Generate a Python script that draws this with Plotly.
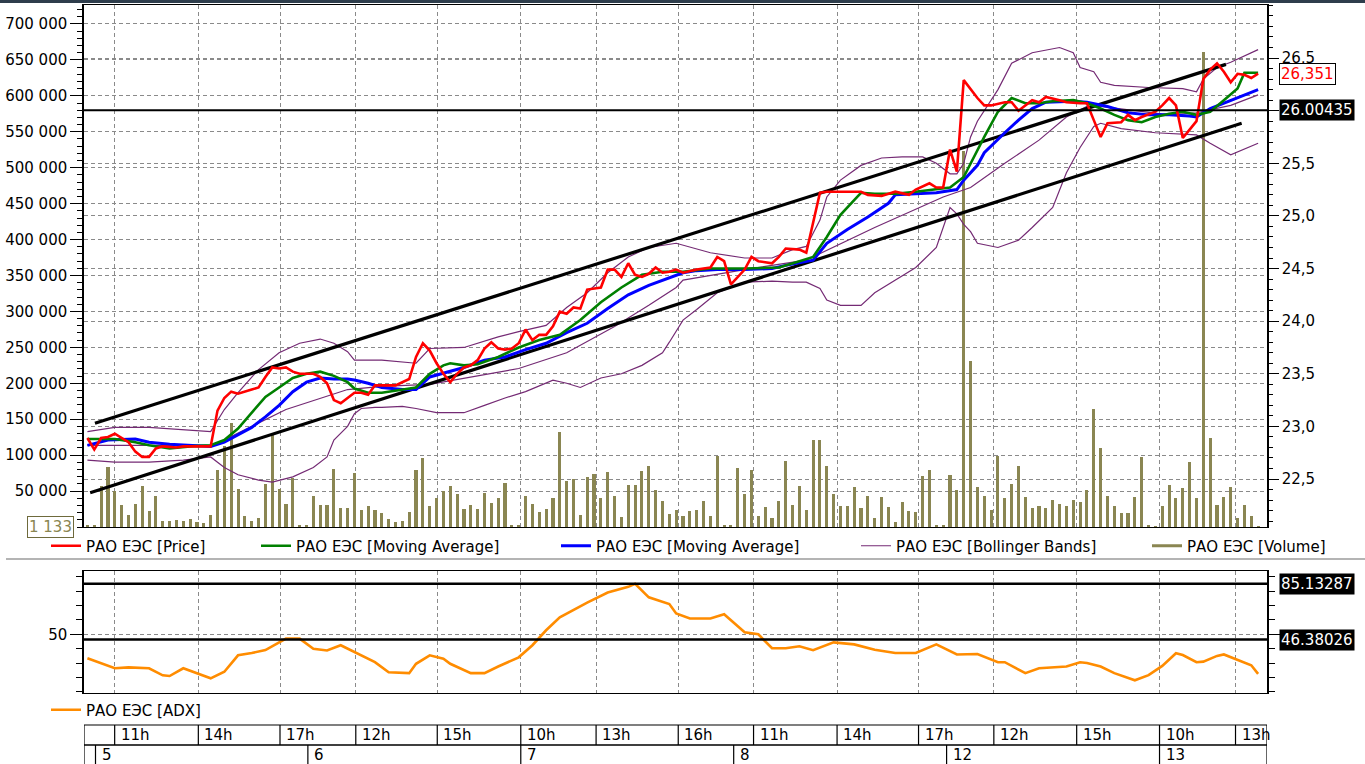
import plotly.graph_objects as go

# ---------------- data ----------------
volume = [3250, 3250, 56600, 83100, 49700, 31100, 17200, 32500, 57600, 22700, 43600, 7900, 8800, 10200, 7900,
          11100, 6500, 5600, 17200, 78900, 112300, 144800, 52900, 14900, 7900, 12500, 59900, 130000, 52900, 32500,
          68200, 3250, 3250, 43600, 31100, 31100, 80800, 26500, 26500, 75200, 24100, 29700, 24100, 19500,
          11100, 6500, 8800, 20400, 78900, 96100, 28800, 40400, 49700, 57600, 46000, 25100, 30200, 25100, 47300,
          33400, 40400, 61300, 1900, 3250, 42700, 32500, 20400, 25100, 40400, 131800, 63600, 66800, 17200, 69600,
          73800, 40400, 76600, 43600, 13900, 59000, 59000, 77500, 84500, 51100, 35700, 18600, 23200,
          14900, 21800, 24100, 35700, 15800, 98400, 1900, 1900, 82200, 46400, 78900, 14900, 27900, 12500, 35700,
          92400, 31100, 56600, 24100, 121600, 121600, 84500, 46400, 29700, 28800, 55700, 26500, 43600, 12500,
          41800, 27900, 6500, 34400, 21800, 20400, 71500, 79800, 1900, 1900, 72900, 51100, 523200, 230700,
          55700, 43600, 23200, 98400, 40400, 59900, 85400, 41800, 26500, 28800, 26500, 38100, 32500, 28800,
          37100, 34800, 52000, 164300, 110000, 43600, 28800, 19500, 19500, 41800, 97000, 1900, 900, 28800,
          58000, 40400, 54300, 90500, 40400, 661000, 123900, 31100, 41800, 55700, 12500, 31100, 14900, 1133]

price_x = [0, 1, 2, 3, 4, 5, 6, 7, 8, 9, 10, 11, 13, 14, 16, 18, 19, 20, 21, 22, 24, 25, 26, 27, 28, 29, 30, 31,
           33, 34, 35, 36, 37, 38, 39, 40, 41, 42, 43, 45, 47, 48, 49, 50, 51, 52, 53, 54, 55, 56, 57, 58, 59,
           60, 61, 62, 63, 64, 65, 66, 67, 68, 69, 70, 71, 72, 73, 74, 75, 76, 77, 78, 79, 80, 81, 82, 83, 84,
           85, 86, 87, 89, 91, 92, 93, 94, 96, 97, 98, 100, 101, 102, 104, 105, 106, 107, 108, 110, 113, 114,
           116, 118, 120, 121, 123, 124, 125, 126, 127, 128, 129, 130, 131, 132, 134, 135, 136, 138, 139, 140,
           142, 143, 145, 146, 147, 148, 149, 151, 152, 153, 154, 156, 157, 158, 159, 160, 161, 162, 163, 164,
           165, 166, 167, 168, 169, 170, 171]
price_y = [22.89, 22.78, 22.89, 22.90, 22.93, 22.89, 22.85, 22.76, 22.71, 22.71, 22.79, 22.81, 22.80, 22.81,
           22.81, 22.81, 23.15, 23.27, 23.33, 23.31, 23.35, 23.37, 23.47, 23.56, 23.55, 23.56, 23.52, 23.50,
           23.50, 23.47, 23.41, 23.25, 23.22, 23.27, 23.32, 23.32, 23.30, 23.39, 23.39, 23.39, 23.45, 23.66,
           23.79, 23.72, 23.60, 23.50, 23.42, 23.50, 23.56, 23.58, 23.63, 23.74, 23.80, 23.74, 23.73, 23.74,
           23.79, 23.92, 23.82, 23.87, 23.87, 23.95, 24.09, 24.07, 24.13, 24.12, 24.30, 24.31, 24.32, 24.49,
           24.49, 24.42, 24.55, 24.44, 24.42, 24.45, 24.51, 24.46, 24.47, 24.49, 24.46, 24.49, 24.51, 24.61,
           24.57, 24.35, 24.49, 24.61, 24.57, 24.55, 24.61, 24.69, 24.68, 24.65, 24.95, 25.22, 25.23, 25.23,
           25.23, 25.20, 25.19, 25.23, 25.20, 25.25, 25.31, 25.27, 25.27, 25.63, 25.42, 26.29, 26.20, 26.12,
           26.05, 26.05, 26.08, 26.08, 26.00, 26.10, 26.08, 26.13, 26.10, 26.08, 26.07, 26.07, 25.91, 25.75,
           25.88, 25.89, 25.96, 25.91, 25.94, 25.99, 26.05, 26.12, 26.05, 25.74, 25.82, 25.90, 26.30, 26.39,
           26.45, 26.37, 26.27, 26.35, 26.34, 26.31, 26.351]

ma_green_x = [0, 4, 7, 9, 12, 15, 18, 20, 22, 24, 26, 28, 30, 32, 34, 36, 38, 39, 41, 43, 46, 48, 50, 52, 53,
              55, 57, 60, 63, 66, 69, 72, 75, 78, 81, 84, 87, 91, 96, 101, 104, 106, 108, 110, 112, 113, 115,
              118, 121, 124, 126, 128, 129, 130, 131, 133, 135, 137, 139, 141, 144, 146, 148, 150, 152, 154,
              156, 158, 160, 162, 164, 166, 168, 169, 171]
ma_green_y = [22.88, 22.88, 22.85, 22.82, 22.79, 22.81, 22.82, 22.87, 22.98, 23.13, 23.28, 23.37, 23.46, 23.50,
              23.52, 23.48, 23.42, 23.36, 23.32, 23.32, 23.35, 23.37, 23.50, 23.58, 23.60, 23.58, 23.59, 23.66,
              23.75, 23.82, 23.87, 24.01, 24.18, 24.32, 24.44, 24.47, 24.47, 24.50, 24.50, 24.51, 24.57, 24.61,
              24.80, 25.01, 25.15, 25.22, 25.21, 25.21, 25.23, 25.25, 25.27, 25.37, 25.50, 25.62, 25.75, 25.99,
              26.12, 26.07, 26.07, 26.09, 26.10, 26.07, 26.02, 25.96, 25.91, 25.89, 25.94, 25.97, 25.99, 25.96,
              25.99, 26.10, 26.21, 26.36, 26.36]

ma_blue_x = [0, 3, 7, 9, 12, 16, 18, 20, 22, 24, 26, 28, 30, 32, 34, 36, 38, 39, 41, 43, 46, 48, 50, 53, 55, 58,
             61, 64, 67, 70, 73, 76, 79, 82, 85, 87, 89, 92, 96, 100, 102, 106, 108, 111, 114, 117, 118, 121,
             124, 127, 128, 130, 131, 134, 136, 138, 140, 144, 146, 149, 152, 155, 158, 161, 162, 164, 167, 169,
             171]
ma_blue_y = [22.82, 22.87, 22.88, 22.85, 22.83, 22.82, 22.81, 22.85, 22.92, 22.99, 23.09, 23.20, 23.33, 23.42,
             23.46, 23.45, 23.45, 23.44, 23.41, 23.37, 23.35, 23.35, 23.47, 23.52, 23.56, 23.63, 23.66, 23.73,
             23.79, 23.89, 23.98, 24.12, 24.25, 24.34, 24.41, 24.46, 24.48, 24.49, 24.49, 24.50, 24.53, 24.58,
             24.74, 24.87, 24.99, 25.12, 25.20, 25.21, 25.22, 25.25, 25.34, 25.48, 25.60, 25.79, 25.91, 26.02,
             26.08, 26.09, 26.08, 26.04, 25.98, 25.96, 25.96, 25.95, 25.94, 26.02, 26.10, 26.15, 26.20]

bb_upper_x = [0, 4, 9, 14, 18, 20, 22, 25, 28, 31, 34, 36, 38, 39, 43, 48, 50, 55, 60, 63, 67, 70, 73, 76, 79,
              82, 86, 91, 96, 100, 103, 105, 107, 108, 110, 113, 116, 119, 122, 124, 126, 127, 128, 129, 130,
              133, 135, 138, 142, 144, 145, 147, 148, 150, 155, 160, 162, 163, 165, 167, 171]
bb_upper_y = [22.95, 22.99, 22.99, 22.97, 22.95, 23.16, 23.32, 23.54, 23.70, 23.79, 23.83, 23.79, 23.71, 23.63,
              23.63, 23.60, 23.74, 23.75, 23.85, 23.90, 23.96, 24.13, 24.27, 24.46, 24.61, 24.70, 24.74, 24.65,
              24.60, 24.60, 24.68, 24.71, 24.96, 25.18, 25.34, 25.48, 25.55, 25.56, 25.56, 25.50, 25.40, 25.40,
              25.50, 25.75, 25.90, 26.20, 26.45, 26.55, 26.60, 26.55, 26.41, 26.37, 26.27, 26.24, 26.22, 26.21,
              26.18, 26.30, 26.41, 26.46, 26.58]

bb_middle_x = [0, 18, 19, 29, 38, 43, 50, 57, 63, 70, 77, 82, 86, 87, 96, 105, 115, 125, 129, 134, 139, 143,
               146, 148, 158, 162, 167, 171]
bb_middle_y = [22.82, 22.82, 22.84, 23.16, 23.35, 23.38, 23.40, 23.48, 23.55, 23.70, 23.95, 24.15, 24.32, 24.39,
               24.49, 24.58, 24.89, 25.18, 25.27, 25.50, 25.72, 25.94, 26.04, 26.04, 25.96, 25.98, 26.05, 26.15]

bb_lower_x = [0, 4, 9, 14, 18, 20, 22, 25, 27, 30, 33, 35, 36, 38, 39, 40, 42, 43, 46, 48, 51, 55, 58, 61, 64,
              68, 70, 72, 75, 78, 81, 84, 85, 87, 89, 92, 96, 100, 103, 105, 107, 108, 110, 113, 115, 118, 121,
              124, 125, 126, 127, 128, 129, 130, 133, 136, 138, 141, 143, 145, 147, 148, 151, 156, 162, 164, 167,
              171]
bb_lower_y = [22.68, 22.66, 22.66, 22.68, 22.71, 22.61, 22.54, 22.49, 22.47, 22.52, 22.61, 22.71, 22.87, 23.00,
              23.12, 23.17, 23.18, 23.18, 23.19, 23.17, 23.13, 23.13, 23.20, 23.27, 23.33, 23.44, 23.41, 23.37,
              23.46, 23.50, 23.58, 23.70, 23.80, 24.01, 24.11, 24.27, 24.37, 24.38, 24.37, 24.37, 24.31, 24.20,
              24.15, 24.15, 24.27, 24.39, 24.51, 24.70, 24.89, 25.08, 25.02, 24.92, 24.85, 24.74, 24.70, 24.77,
              24.89, 25.08, 25.41, 25.65, 25.85, 25.88, 25.83, 25.79, 25.77, 25.69, 25.58, 25.69]

channel_upper_x = [1.1, 166.3]
channel_upper_y = [23.03, 26.44]
channel_lower_x = [0.4, 168.6]
channel_lower_y = [22.37, 25.88]
price_level = 26.00435

adx_x = [0, 4, 6, 9, 11, 12, 14, 16, 18, 20, 22, 24, 26, 29, 31, 33, 35, 37, 39, 42, 44, 47, 48, 50, 52, 53, 56,
         58, 60, 63, 65, 67, 69, 73, 76, 79, 80, 82, 85, 86, 88, 91, 93, 95, 96, 98, 100, 102, 104, 106, 109,
         112, 115, 118, 121, 124, 127, 130, 133, 134, 137, 139, 143, 145, 146, 148, 150, 153, 155, 157, 159,
         160, 162, 163, 165, 166, 168, 170, 171]
adx_y = [33.3, 26.4, 27.0, 26.4, 21.5, 21.0, 26.4, 23.0, 19.4, 24.0, 35.4, 37.0, 39.0, 47.0, 47.0, 40.0, 38.8,
         42.4, 37.8, 30.6, 23.6, 23.0, 29.5, 35.4, 33.0, 29.5, 23.0, 23.0, 27.6, 34.0, 42.4, 52.8, 61.8, 72.0,
         79.0, 83.0, 85.1, 75.7, 71.0, 64.5, 61.0, 61.0, 64.0, 55.5, 51.4, 50.0, 40.3, 40.3, 41.7, 39.0, 44.4,
         43.0, 39.3, 37.0, 37.0, 43.0, 36.0, 36.3, 30.6, 30.6, 23.0, 26.4, 27.6, 30.6, 30.0, 27.6, 23.0, 18.0,
         21.6, 28.0, 36.8, 35.6, 30.6, 31.0, 35.0, 36.0, 32.0, 28.5, 22.5]
adx_levels = [85.13287, 46.38026]

hour_pos = [3.98, 16.2, 28.13, 39.2, 51.1, 63.3, 74.3, 86.3, 97.3, 109.5, 121.4, 132.4, 144.5, 156.6, 167.7]
hour_labels = ["11h", "14h", "17h", "12h", "15h", "10h", "13h", "16h", "11h", "14h", "17h", "12h", "15h", "10h", "13h"]
day_pos = [1.18, 32.2, 63.3, 94.4, 125.5, 156.6]
day_labels = ["5", "6", "7", "8", "12", "13"]

vol_ticks = [50000 * k for k in range(1, 15)]
price_ticks = [22.5, 23.0, 23.5, 24.0, 24.5, 25.0, 25.5, 26.0, 26.5]
adx_ticks = [50]

NAME = "РАО ЕЭС"

# ---------------- layout helpers ----------------
W, H = 1365, 764
L, R, T, B = 84, 1267, 5, 764
X_RANGE = [-0.5, 172.3]


def py(y):
    return 1 - (y - T) / (B - T)


def pxp(x):
    return (x - L) / (R - L)


FONT = "DejaVu Sans"
GRID = dict(showgrid=True, gridcolor="#8a8a8a", gridwidth=1, griddash="4px,3px")
RED, GREEN, BLUE, PURPLE, OLIVE, ORANGE = "#ff0000", "#008000", "#0000ff", "#742a74", "#8a8652", "#ff8c00"

fig = go.Figure()

fig.add_trace(go.Bar(x=list(range(len(volume))), y=volume, marker=dict(color=OLIVE, line=dict(width=0)),
                     width=0.45, xaxis="x", yaxis="y", showlegend=False, hoverinfo="skip"))

for bx, by, show in [(bb_upper_x, bb_upper_y, True), (bb_middle_x, bb_middle_y, False),
                     (bb_lower_x, bb_lower_y, False)]:
    fig.add_trace(go.Scatter(x=bx, y=by, mode="lines", line=dict(color=PURPLE, width=1.2),
                             name=f"{NAME} [Bollinger Bands]", legend="legend4", showlegend=show,
                             xaxis="x", yaxis="y2"))

for cx, cy in [(channel_upper_x, channel_upper_y), (channel_lower_x, channel_lower_y)]:
    fig.add_trace(go.Scatter(x=cx, y=cy, mode="lines", line=dict(color="black", width=3.2),
                             showlegend=False, xaxis="x", yaxis="y2"))

fig.add_trace(go.Scatter(x=ma_blue_x, y=ma_blue_y, mode="lines", line=dict(color=BLUE, width=3),
                         name=f"{NAME} [Moving Average]", legend="legend3", xaxis="x", yaxis="y2"))
fig.add_trace(go.Scatter(x=ma_green_x, y=ma_green_y, mode="lines", line=dict(color=GREEN, width=2.6),
                         name=f"{NAME} [Moving Average]", legend="legend2", xaxis="x", yaxis="y2"))
fig.add_trace(go.Scatter(x=price_x, y=price_y, mode="lines", line=dict(color=RED, width=2.6),
                         name=f"{NAME} [Price]", legend="legend", xaxis="x", yaxis="y2"))
fig.add_trace(go.Scatter(x=[None], y=[None], mode="lines", line=dict(color=OLIVE, width=3),
                         name=f"{NAME} [Volume]", legend="legend5", xaxis="x", yaxis="y"))

fig.add_trace(go.Scatter(x=adx_x, y=adx_y, mode="lines", line=dict(color=ORANGE, width=2.6),
                         name=f"{NAME} [ADX]", legend="legend6", xaxis="x2", yaxis="y3"))

TICKFONT = dict(family=FONT, size=15, color="black")
price_ticktext = ["" if abs(v - price_level) < 0.1 else f"{v:.1f}".replace(".", ",") for v in price_ticks]

fig.update_layout(
    width=W, height=H, margin=dict(l=L, r=W - R, t=T, b=H - B),
    paper_bgcolor="white", plot_bgcolor="white",
    font=dict(family=FONT, size=15, color="black"),
    bargap=0,
    xaxis=dict(domain=[0, 1], range=X_RANGE, anchor="y", tickmode="array", tickvals=hour_pos,
               showticklabels=False, ticks="", showline=True, linecolor="black", linewidth=1, mirror=True,
               zeroline=False, **GRID),
    yaxis=dict(domain=[py(527), 1], range=[0, 726400], anchor="x", tickmode="array", tickvals=vol_ticks,
               ticktext=[f"{v:,}".replace(",", " ") for v in vol_ticks], ticks="outside", ticklen=12,
               tickcolor="black", tickfont=TICKFONT, showline=True, linecolor="black", linewidth=1.5,
               zeroline=False, minor=dict(dtick=10000, tick0=0, ticks="outside", ticklen=5, tickcolor="black",
                                          showgrid=False), **GRID),
    yaxis2=dict(overlaying="y", side="right", anchor="x", range=[22.044, 27.004], tickmode="array",
                tickvals=price_ticks, ticktext=price_ticktext,
                ticks="outside", ticklen=10, tickcolor="black", tickfont=TICKFONT, showline=True,
                linecolor="black", linewidth=1.5, zeroline=False,
                minor=dict(dtick=0.1, tick0=0, ticks="outside", ticklen=4, tickcolor="black", showgrid=False),
                **GRID),
    xaxis2=dict(domain=[0, 1], range=X_RANGE, anchor="y3", matches="x", tickmode="array", tickvals=hour_pos,
                showticklabels=False, ticks="", showline=True, linecolor="black", linewidth=1, mirror=True,
                zeroline=False, **GRID),
    yaxis3=dict(domain=[py(693), py(571)], range=[9.2, 94], anchor="x2", tickmode="array", tickvals=adx_ticks,
                ticktext=[str(v) for v in adx_ticks], ticks="outside", ticklen=12, tickcolor="black",
                tickfont=TICKFONT, showline=True, linecolor="black", linewidth=1.5, mirror="ticks",
                zeroline=False,
                minor=dict(dtick=10, tick0=0, ticks="outside", ticklen=6, tickcolor="black", showgrid=False),
                **GRID),
)

legend_common = dict(orientation="h", xanchor="left", yanchor="middle", bgcolor="rgba(0,0,0,0)",
                     borderwidth=0, font=dict(family=FONT, size=15, color="black"), itemwidth=30,
                     tracegroupgap=0)
legend_x_px = {"legend": 46, "legend2": 256, "legend3": 556, "legend4": 856, "legend5": 1147}
for key, xp in legend_x_px.items():
    fig.update_layout({key: dict(x=pxp(xp), y=py(546), **legend_common)})
fig.update_layout(legend6=dict(x=pxp(46), y=py(710), **legend_common))

shapes = []
# window top border
shapes.append(dict(type="rect", xref="paper", yref="paper", x0=pxp(0), x1=pxp(W), y0=py(3), y1=py(-3),
                   fillcolor="#2e3d4c", line=dict(width=0), layer="above"))
# separator below legend
shapes.append(dict(type="line", xref="paper", yref="paper", x0=pxp(6), x1=pxp(W), y0=py(559), y1=py(559),
                   line=dict(color="#b4b4b4", width=2)))
# price level line
shapes.append(dict(type="line", xref="x domain", yref="y2", x0=0, x1=1, y0=price_level, y1=price_level,
                   line=dict(color="black", width=2)))
# ADX level lines
for lv in adx_levels:
    shapes.append(dict(type="line", xref="x2 domain", yref="y3", x0=0, x1=1, y0=lv, y1=lv,
                       line=dict(color="black", width=2.5)))
# time axis rows
shapes.append(dict(type="rect", xref="x2", yref="paper", x0=X_RANGE[0], x1=X_RANGE[1], y0=py(745), y1=py(725),
                   line=dict(color="black", width=1.2)))
shapes.append(dict(type="rect", xref="x2", yref="paper", x0=X_RANGE[0], x1=X_RANGE[1], y0=py(766), y1=py(745),
                   line=dict(color="black", width=1.2)))
for hp in hour_pos:
    shapes.append(dict(type="line", xref="x2", yref="paper", x0=hp, x1=hp, y0=py(745), y1=py(725),
                       line=dict(color="black", width=1.2)))
for dp in day_pos:
    shapes.append(dict(type="line", xref="x2", yref="paper", x0=dp, x1=dp, y0=py(766), y1=py(745),
                       line=dict(color="black", width=1.2)))
fig.update_layout(shapes=shapes)

ann = []
for hp, hl in zip(hour_pos, hour_labels):
    ann.append(dict(x=hp, y=py(735), xref="x2", yref="paper", text=hl, showarrow=False, xanchor="left",
                    yanchor="middle", xshift=4, font=dict(family=FONT, size=15, color="black")))
for dp, dl in zip(day_pos, day_labels):
    ann.append(dict(x=dp, y=py(754.5), xref="x2", yref="paper", text=dl, showarrow=False, xanchor="left",
                    yanchor="middle", xshift=4, font=dict(family=FONT, size=15, color="black")))
# right-side value boxes
ann.append(dict(x=pxp(1279), y=price_y[-1], xref="paper", yref="y2",
                text=f"{price_y[-1]:.3f}".replace(".", ","), showarrow=False, xanchor="left", yanchor="middle",
                font=dict(family=FONT, size=15, color=RED), bgcolor="white", bordercolor="black", borderwidth=1,
                borderpad=1))
ann.append(dict(x=pxp(1279), y=price_level, xref="paper", yref="y2", text=f"{price_level:.5f}", showarrow=False,
                xanchor="left", yanchor="middle", font=dict(family=FONT, size=15, color="white"),
                bgcolor="black", borderpad=1))
for lv in adx_levels:
    ann.append(dict(x=pxp(1279), y=lv, xref="paper", yref="y3", text=f"{lv:.5f}", showarrow=False,
                    xanchor="left", yanchor="middle", font=dict(family=FONT, size=15, color="white"),
                    bgcolor="black", borderpad=1))
# last volume box
ann.append(dict(x=pxp(74), y=0, xref="paper", yref="y", text=f"{volume[-1]:,}".replace(",", " "),
                showarrow=False, xanchor="right", yanchor="middle", font=dict(family=FONT, size=15, color=OLIVE),
                bgcolor="white", bordercolor="#6e6a3c", borderwidth=1, borderpad=1))
fig.update_layout(annotations=ann)

fig.write_html("out.html", config={"displayModeBar": False},
               post_script="document.body.style.margin='0';document.body.style.overflow='hidden';")
